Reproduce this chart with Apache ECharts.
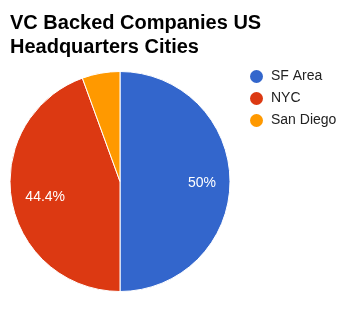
<!DOCTYPE html>
<html>
<head>
<meta charset="utf-8">
<script src="https://cdn.jsdelivr.net/npm/echarts@6/dist/echarts.min.js"></script>
<style>
html,body{margin:0;padding:0;background:#fff;}
#chart{width:359px;height:310px;}
</style>
</head>
<body>
<div id="chart"></div>
<script>
var titleText = "VC Backed Companies US\nHeadquarters Cities";
var categories = ["SF Area", "NYC", "San Diego"];
var values = [9, 8, 1];
var colors = ["#3366cc", "#dc3912", "#ff9900"];
var showLabel = [true, true, false];

var chart = echarts.init(document.getElementById('chart'), null, {renderer: 'canvas'});
var baseData = categories.map(function (c, i) {
  return { name: c, value: values[i], itemStyle: { color: colors[i] } };
});
var labelData = categories.map(function (c, i) {
  return { name: c, value: values[i], label: { show: showLabel[i] } };
});
var option = {
  animation: false,
  title: {
    text: titleText,
    left: 5,
    top: 7,
    textStyle: { fontFamily: 'Liberation Sans, Arial, sans-serif', fontSize: 20, fontWeight: 'bold', color: '#000', lineHeight: 23.5 }
  },
  legend: {
    orient: 'vertical',
    left: 245,
    top: 64.5,
    icon: 'circle',
    itemWidth: 13,
    itemHeight: 13,
    itemGap: 8,
    itemStyle: { borderWidth: 0 },
    data: categories,
    textStyle: { fontFamily: 'Liberation Sans, Arial, sans-serif', fontSize: 14, color: '#222', padding: [0, 0, 0, 3] }
  },
  series: [
    {
      type: 'pie',
      center: [120, 181.5],
      radius: 110,
      startAngle: 90,
      clockwise: true,
      label: { show: false },
      labelLine: { show: false },
      emphasis: { disabled: true },
      itemStyle: { borderColor: '#fff', borderWidth: 1 },
      data: baseData
    },
    {
      type: 'pie',
      center: [120, 181.5],
      radius: [42, 110],
      startAngle: 90,
      clockwise: true,
      silent: true,
      legendHoverLink: false,
      itemStyle: { color: 'rgba(0,0,0,0)' },
      label: {
        position: 'inner',
        offset: [3, 1.5],
        formatter: function (p) { return (Math.round(p.percent * 10) / 10) + '%'; },
        fontFamily: 'Liberation Sans, Arial, sans-serif',
        fontSize: 14,
        color: '#fff'
      },
      labelLine: { show: false },
      emphasis: { disabled: true },
      data: labelData
    }
  ]
};
chart.setOption(option);
</script>
</body>
</html>
